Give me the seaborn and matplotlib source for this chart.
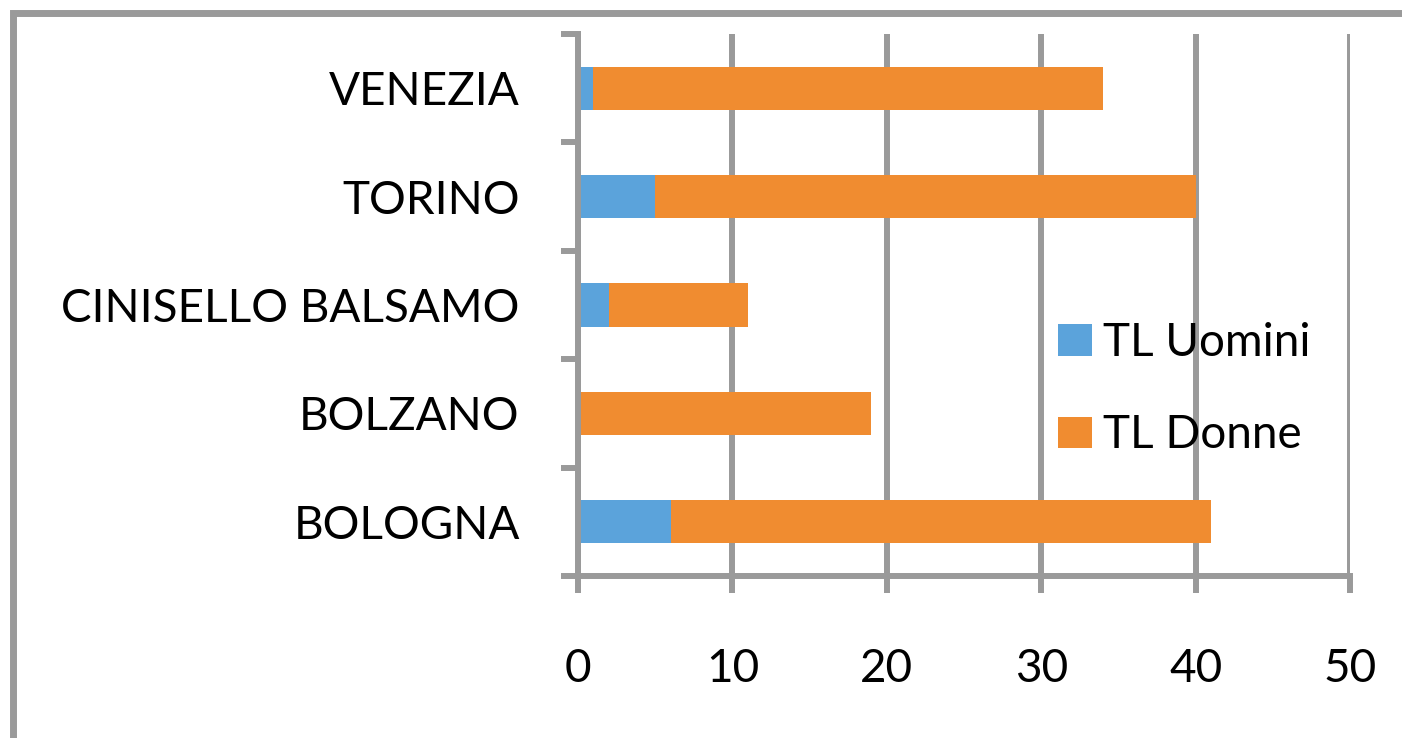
import matplotlib
matplotlib.use("Agg")
import matplotlib.pyplot as plt
from matplotlib.patches import Rectangle
import seaborn as sns
import pandas as pd

# ---- data ----
cities = ["VENEZIA", "TORINO", "CINISELLO BALSAMO", "BOLZANO", "BOLOGNA"]
tl_uomini = [1, 5, 2, 0, 6]
tl_donne = [33, 35, 9, 19, 35]
x_ticks = [0, 10, 20, 30, 40, 50]

BLUE = "#5BA3DB"
ORANGE = "#F08C30"
GRAY = "#9A9A9A"

df = pd.DataFrame({"city": cities, "uomini": tl_uomini, "donne": tl_donne})
df["totale"] = df["uomini"] + df["donne"]

sns.set_theme(style="white")
plt.rcParams["font.family"] = ["Lato", "DejaVu Sans"]
plt.rcParams["text.color"] = "black"
plt.rcParams["xtick.labelcolor"] = "black"
plt.rcParams["ytick.labelcolor"] = "black"

fig = plt.figure(figsize=(14.02, 7.38), dpi=100)
ax = fig.add_axes([578 / 1402, 1 - 576 / 738, (1350 - 578) / 1402, (576 - 34) / 738])

sns.barplot(data=df, y="city", x="totale", order=cities, color=ORANGE,
            saturation=1, width=0.4, label="TL Donne", ax=ax, zorder=3,
            linewidth=0)
sns.barplot(data=df, y="city", x="uomini", order=cities, color=BLUE,
            saturation=1, width=0.4, label="TL Uomini", ax=ax, zorder=4,
            linewidth=0)

ax.set_xlim(0, 50)
ax.set_ylim(4.5, -0.5)
ax.set_xticks(x_ticks)
ax.set_xlabel("")
ax.set_ylabel("")

# grid
ax.grid(axis="x", color=GRAY, linewidth=4.3, zorder=0)
ax.grid(axis="y", visible=False)
ax.set_axisbelow(True)

for s in ["top", "right"]:
    ax.spines[s].set_visible(False)
for s in ["left", "bottom"]:
    ax.spines[s].set_color(GRAY)
    ax.spines[s].set_linewidth(4.3)
    ax.spines[s].set_zorder(5)

ax.tick_params(axis="x", direction="out", length=12, width=4.3, color=GRAY,
               labelsize=33, pad=40, bottom=True, labelcolor="black")
ax.tick_params(axis="y", which="major", length=0, labelsize=33, pad=42,
               labelcolor="black")
ax.set_yticks([i + 0.5 for i in range(-1, 5)], minor=True)
ax.tick_params(axis="y", which="minor", direction="out", length=12, width=4.3,
               color=GRAY, left=True)

# legend
handles, labels = ax.get_legend_handles_labels()
order = [labels.index("TL Uomini"), labels.index("TL Donne")]
leg = ax.legend([handles[i] for i in order], [labels[i] for i in order],
                loc="upper left", bbox_to_anchor=(1058 / 1402, 1 - 322 / 738),
                bbox_transform=fig.transFigure, frameon=False, fontsize=33,
                handlelength=0.74, handleheight=0.67, handletextpad=0.25,
                labelspacing=1.1, borderaxespad=0, borderpad=0)
for t in leg.get_texts():
    t.set_color("black")

# outer chart frame
fig.patches.append(Rectangle((12.5 / 1402, -0.5), 2, 0.5 + 1 - 13 / 738,
                             transform=fig.transFigure, fill=False,
                             edgecolor=GRAY, linewidth=5, zorder=0))

fig.savefig("out.png", dpi=100)
